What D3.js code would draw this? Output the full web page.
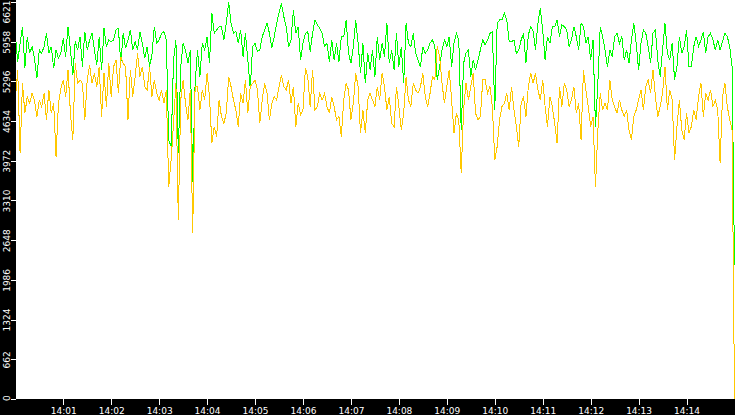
<!DOCTYPE html>
<html><head><meta charset="utf-8">
<script src="https://cdn.jsdelivr.net/npm/d3@7"></script>
<style>html,body{margin:0;padding:0;background:#000;overflow:hidden}</style>
</head><body>
<svg id="chart" width="735" height="415"></svg>
<script>
// ---- data ----
const startTime = "2024-01-01T14:00:00";
const endTime = "2024-01-01T14:15:00";
const stepSeconds = 3;
const greenValues = [
6099,5626,5932,6210,5515,6043,5765,5877,5682,5348,5821,5765,5877,6099,5765,5877,5515,5821,5682,5765,6016,5710,6210,5821,5404,5960,5821,6043,5543,6127,5821,5988,6099,5821,5571,6043,5487,6182,
5877,5988,5960,5988,6155,6182,5599,6099,5849,5988,6155,5821,5960,5821,6127,5932,5682,5877,5543,5738,6210,5932,5988,6099,6127,5988,4320,4209,5654,5988,4097,5543,5932,5821,5599,5821,3625,
5265,5821,5376,5932,5821,6043,5599,6433,6099,6155,6210,6210,5988,6266,6621,6266,6099,6127,5932,6155,5710,6099,5654,5182,5877,5932,5793,5821,6043,6155,6266,6099,5849,6043,6266,6433,6599,6377,
6210,5877,5988,6488,6099,6210,5654,5932,6099,6127,5793,6099,6321,6238,6182,6099,5877,5932,5626,5988,5654,5932,5626,6043,6043,6321,5765,5599,5877,6321,5932,5432,5932,5265,5765,5487,5821,
5376,6043,5654,5932,5710,6266,5599,5821,5487,6099,5543,5877,5265,6266,5932,5877,6099,5765,5654,5543,5877,5765,5821,5932,5988,5877,5321,5543,5821,5988,5877,6043,5543,5932,6099,5988,4487,5599,
5765,5821,5376,5654,5487,5654,5821,5988,5904,5988,6099,6127,4820,6266,6321,6321,6433,6321,5960,5960,5988,5765,5821,5988,6099,5599,6071,6210,6127,5821,6266,6516,6155,5654,6043,5932,6210,
6210,6321,6043,6238,6210,6155,5877,5988,6210,6043,5821,6266,6210,5932,6043,5654,5988,4542,5265,6210,6043,5821,5543,5821,5710,6043,6099,5932,6043,5654,5821,5599,5988,6266,5932,5487,5932,6155,
6099,5877,5599,6099,6155,5654,5376,5821,6266,5765,5654,5932,5321,5543,6043,5765,5877,6155,5543,5543,5877,6043,5877,5988,6127,5765,6043,6099,5988,5821,5988,5821,5960,6099,6043,5877,5543,2235
];
const orangeValues = [
4987,5487,4097,5265,4765,5043,4931,5098,4987,4709,4987,4876,5098,4653,5154,4765,4931,4042,4931,5182,5321,5043,5487,4765,4320,5599,5265,5321,5265,4653,5321,5571,5265,5432,5209,5543,4709,5432,
4876,5599,5043,5543,5654,5098,5710,5599,5543,4653,5487,5043,5376,5765,5376,5543,5209,5154,5543,5043,5321,5098,4987,5154,4931,5154,3541,3986,4598,5265,2985,4987,5321,4931,4653,5154,2763,
5209,5209,4820,5154,4987,5432,5043,4264,4542,4375,4987,4709,4598,4765,5376,5209,4987,4820,4542,5098,4931,5321,4765,5209,5265,5321,5154,4598,4987,5265,5098,4653,4931,5043,4987,5209,5404,5209,
5154,5321,4931,5209,4542,4931,4737,4820,5515,5376,4876,5487,4820,4876,5098,4987,5098,4876,4765,5043,4876,4653,4709,4375,4987,5265,5154,4653,4931,5432,5209,4431,4820,4431,4987,5098,4987,
4876,5209,4987,5432,5209,4820,5043,4598,4542,5209,4876,4487,4765,5376,4987,4876,5265,5154,5098,5209,5432,5043,4876,5098,5376,5321,5877,5710,5265,4931,5209,5487,4987,4431,4765,4653,3764,4820,
5265,4987,5209,5432,4765,4653,4709,5321,5321,5098,5209,4876,3986,4209,4653,4876,4931,5098,4820,5209,4820,4542,4209,4931,5043,4709,5209,5432,5265,5432,5154,4987,5321,4876,4542,5043,4876,
4598,4264,5209,4876,5265,5154,4876,4987,5209,4765,4931,4320,5487,5154,4876,4542,4709,3541,4487,5098,4820,4931,4820,5321,4987,4876,4765,4987,4820,4709,4820,4487,4320,4709,4820,4987,5154,4820,
5209,5321,5098,5487,5043,4709,4876,5098,5543,4820,5154,4987,3986,4542,4987,4487,4320,4765,4431,4542,4820,4653,5043,5265,4709,5098,4987,5154,4876,4987,4820,3931,5043,5265,4876,4653,4487,0
];
const xTickLabels = ["14:01","14:02","14:03","14:04","14:05","14:06","14:07","14:08","14:09","14:10","14:11","14:12","14:13","14:14"];
const yTickLabels = ["0","662","1324","1986","2648","3310","3972","4634","5296","5958","6621"];
const yTickValues = [0,662.1,1324.2,1986.3,2648.4,3310.5,3972.6,4634.7,5296.8,5958.9,6621];
const yDomainMax = 6654;

// ---- chart ----
const W = 735, H = 415;
const left = 16, bottom = 399;
const svg = d3.select("#chart");
const parse = d3.isoParse;
const t0 = parse(startTime), t1 = parse(endTime);
const times = greenValues.map((_, i) => new Date(t0.getTime() + i * stepSeconds * 1000));

const x = d3.scaleTime().domain([t0, t1]).range([15.3, 734.5]);
const y = d3.scaleLinear().domain([0, yDomainMax]).range([bottom, 0]);

svg.append("rect").attr("width", W).attr("height", H).attr("fill", "#000");
svg.append("rect").attr("x", left).attr("y", 0).attr("width", W - left).attr("height", bottom).attr("fill", "#fff");

svg.append("clipPath").attr("id", "plotclip")
  .append("rect").attr("x", left).attr("y", 0).attr("width", W - left + 2).attr("height", bottom + 1);

const line = d3.line().x((d, i) => x(times[i])).y(d => y(d));
const plot = svg.append("g").attr("clip-path", "url(#plotclip)");
plot.append("path").datum(greenValues).attr("d", line)
  .attr("fill", "none").attr("stroke", "#00ff00").attr("stroke-width", 1).attr("shape-rendering", "crispEdges");
plot.append("path").datum(orangeValues).attr("d", line)
  .attr("fill", "none").attr("stroke", "#ffc800").attr("stroke-width", 1).attr("shape-rendering", "crispEdges");

// x axis
const xTickDates = xTickLabels.map(s => parse("2024-01-01T" + s + ":00"));
const xa = svg.append("g").attr("transform", `translate(0,${bottom})`)
  .call(d3.axisBottom(x).tickValues(xTickDates).tickSize(6).tickFormat((d, i) => xTickLabels[i]));
xa.select(".domain").remove();
xa.selectAll("line").attr("stroke", "#fff").attr("shape-rendering", "crispEdges");
xa.selectAll("text").attr("fill", "#fff").style("font-family", "DejaVu Sans").style("font-size", "9px");

// y axis
const ya = svg.append("g").attr("transform", `translate(${left},0)`)
  .call(d3.axisLeft(y).tickValues(yTickValues).tickSize(5).tickFormat((d, i) => yTickLabels[i]));
ya.select(".domain").remove();
ya.selectAll("line").attr("stroke", "#fff").attr("shape-rendering", "crispEdges");
ya.selectAll("text").each(function(d, i) {
  const el = d3.select(this);
  const py = y(d);
  let anchor = "middle", shift = 0;
  if (i === yTickValues.length - 1) { anchor = "end"; shift = -py; }
  if (i === 0) { anchor = "start"; shift = 1.5; }
  el.attr("x", null).attr("dy", null).attr("y", null)
    .attr("transform", `translate(-6,${shift}) rotate(-90)`)
    .attr("text-anchor", anchor)
    .attr("fill", "#fff").style("font-family", "DejaVu Sans").style("font-size", "9px");
});
</script>
</body></html>
